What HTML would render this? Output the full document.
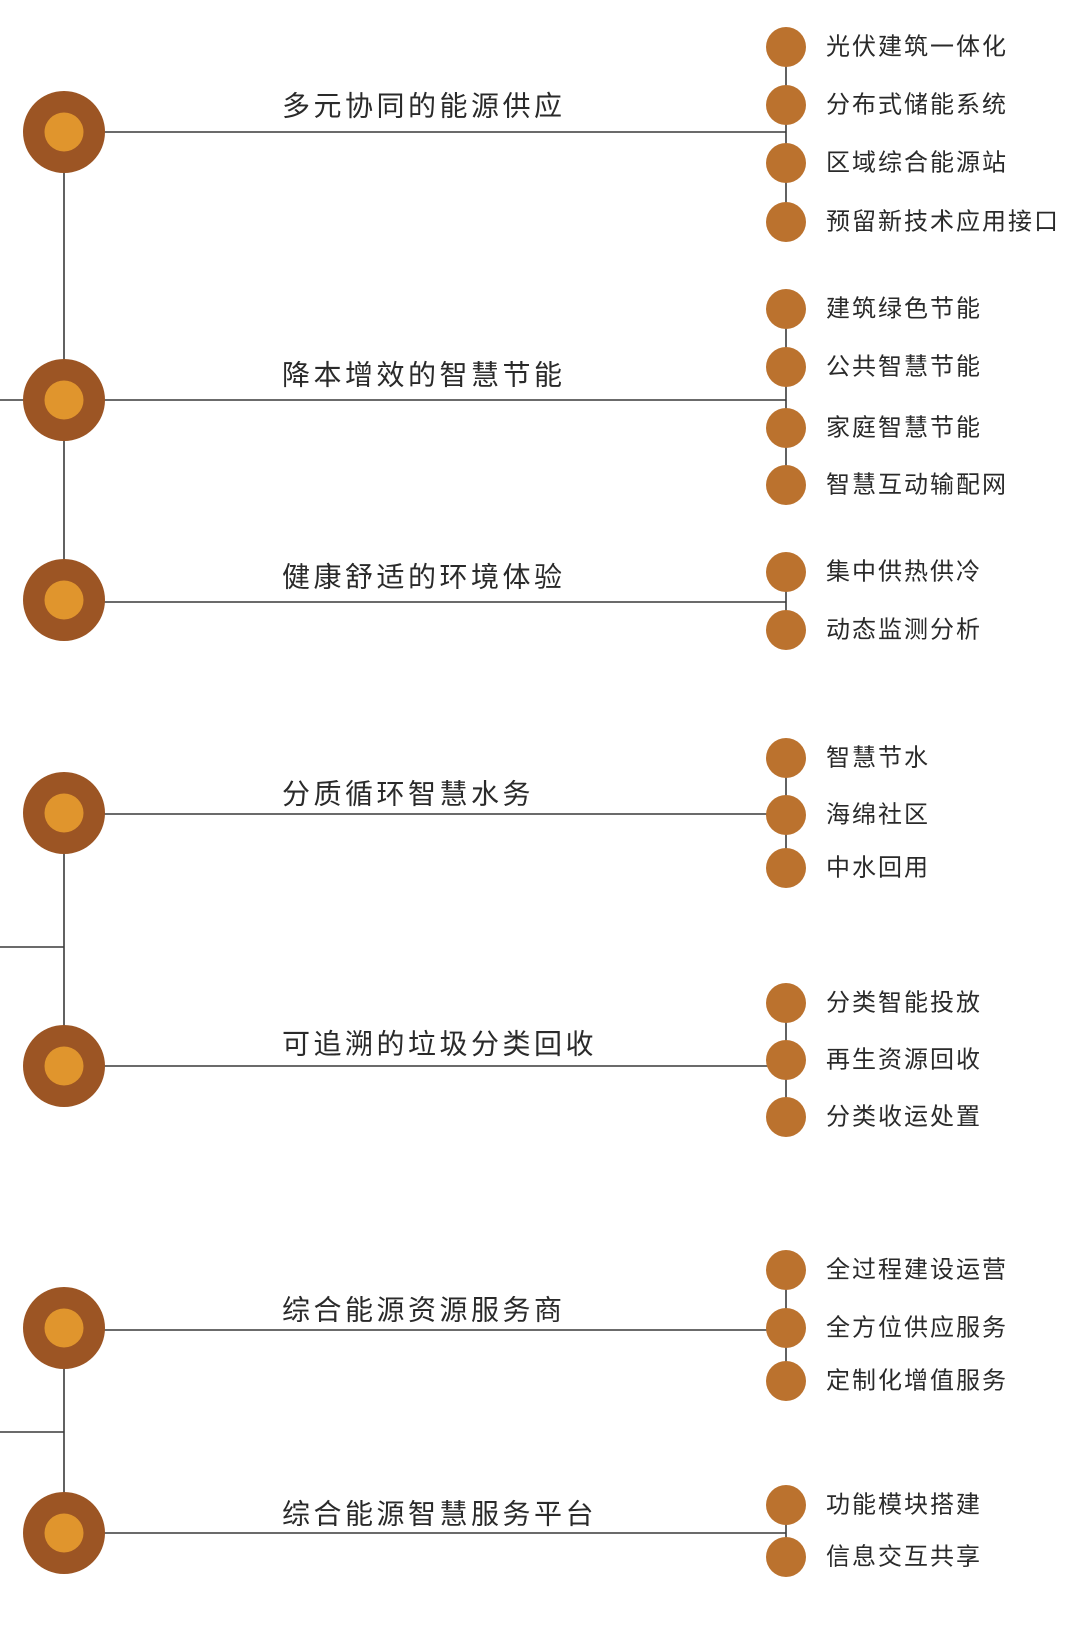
<!DOCTYPE html>
<html><head><meta charset="utf-8"><style>
html,body{margin:0;padding:0;background:#fff;}
svg{display:block;}
.m{font-family:"Liberation Sans","Noto Sans CJK SC",sans-serif;font-size:28px;fill:#2a2a2a;letter-spacing:3.5px;dominant-baseline:central;}
.s{font-family:"Liberation Sans","Noto Sans CJK SC",sans-serif;font-size:24px;fill:#2a2a2a;letter-spacing:2px;dominant-baseline:central;}
</style></head><body>
<svg width="1080" height="1626" viewBox="0 0 1080 1626" xmlns="http://www.w3.org/2000/svg">
<g stroke="#3a3a3a" stroke-width="1.6" fill="none">
<!-- verticals left -->
<line x1="64" y1="132" x2="64" y2="600"/>
<line x1="64" y1="814" x2="64" y2="1066"/>
<line x1="64" y1="1330" x2="64" y2="1533"/>
<!-- stubs -->
<line x1="0" y1="400" x2="64" y2="400"/>
<line x1="0" y1="947" x2="64" y2="947"/>
<line x1="0" y1="1432" x2="64" y2="1432"/>
<!-- horizontals -->
<line x1="64" y1="132" x2="786" y2="132"/>
<line x1="64" y1="400" x2="786" y2="400"/>
<line x1="64" y1="602" x2="786" y2="602"/>
<line x1="64" y1="814" x2="786" y2="814"/>
<line x1="64" y1="1066" x2="786" y2="1066"/>
<line x1="64" y1="1330" x2="786" y2="1330"/>
<line x1="64" y1="1533" x2="786" y2="1533"/>
<!-- right verticals -->
<line x1="786" y1="47" x2="786" y2="222"/>
<line x1="786" y1="309" x2="786" y2="485"/>
<line x1="786" y1="572" x2="786" y2="630"/>
<line x1="786" y1="758" x2="786" y2="868"/>
<line x1="786" y1="1003" x2="786" y2="1117"/>
<line x1="786" y1="1270" x2="786" y2="1381"/>
<line x1="786" y1="1505" x2="786" y2="1557"/>
</g>
<g>
<circle cx="64" cy="132" r="41" fill="#9c5524"/><circle cx="64" cy="132" r="19.5" fill="#e0952d"/>
<circle cx="64" cy="400" r="41" fill="#9c5524"/><circle cx="64" cy="400" r="19.5" fill="#e0952d"/>
<circle cx="64" cy="600" r="41" fill="#9c5524"/><circle cx="64" cy="600" r="19.5" fill="#e0952d"/>
<circle cx="64" cy="813" r="41" fill="#9c5524"/><circle cx="64" cy="813" r="19.5" fill="#e0952d"/>
<circle cx="64" cy="1066" r="41" fill="#9c5524"/><circle cx="64" cy="1066" r="19.5" fill="#e0952d"/>
<circle cx="64" cy="1328" r="41" fill="#9c5524"/><circle cx="64" cy="1328" r="19.5" fill="#e0952d"/>
<circle cx="64" cy="1533" r="41" fill="#9c5524"/><circle cx="64" cy="1533" r="19.5" fill="#e0952d"/>
</g>
<g fill="#bb722e">
<circle cx="786" cy="47" r="20"/><circle cx="786" cy="105" r="20"/><circle cx="786" cy="163" r="20"/><circle cx="786" cy="222" r="20"/>
<circle cx="786" cy="309" r="20"/><circle cx="786" cy="367" r="20"/><circle cx="786" cy="428" r="20"/><circle cx="786" cy="485" r="20"/>
<circle cx="786" cy="572" r="20"/><circle cx="786" cy="630" r="20"/>
<circle cx="786" cy="758" r="20"/><circle cx="786" cy="815" r="20"/><circle cx="786" cy="868" r="20"/>
<circle cx="786" cy="1003" r="20"/><circle cx="786" cy="1060" r="20"/><circle cx="786" cy="1117" r="20"/>
<circle cx="786" cy="1270" r="20"/><circle cx="786" cy="1328" r="20"/><circle cx="786" cy="1381" r="20"/>
<circle cx="786" cy="1505" r="20"/><circle cx="786" cy="1557" r="20"/>
</g>
<g>
<text class="m" x="282" y="106">多元协同的能源供应</text>
<text class="m" x="282" y="375">降本增效的智慧节能</text>
<text class="m" x="282" y="577">健康舒适的环境体验</text>
<text class="m" x="282" y="794">分质循环智慧水务</text>
<text class="m" x="282" y="1044">可追溯的垃圾分类回收</text>
<text class="m" x="282" y="1310">综合能源资源服务商</text>
<text class="m" x="282" y="1514">综合能源智慧服务平台</text>
</g>
<g>
<text class="s" x="826" y="47">光伏建筑一体化</text>
<text class="s" x="826" y="105">分布式储能系统</text>
<text class="s" x="826" y="163">区域综合能源站</text>
<text class="s" x="826" y="222">预留新技术应用接口</text>
<text class="s" x="826" y="309">建筑绿色节能</text>
<text class="s" x="826" y="367">公共智慧节能</text>
<text class="s" x="826" y="428">家庭智慧节能</text>
<text class="s" x="826" y="485">智慧互动输配网</text>
<text class="s" x="826" y="572">集中供热供冷</text>
<text class="s" x="826" y="630">动态监测分析</text>
<text class="s" x="826" y="758">智慧节水</text>
<text class="s" x="826" y="815">海绵社区</text>
<text class="s" x="826" y="868">中水回用</text>
<text class="s" x="826" y="1003">分类智能投放</text>
<text class="s" x="826" y="1060">再生资源回收</text>
<text class="s" x="826" y="1117">分类收运处置</text>
<text class="s" x="826" y="1270">全过程建设运营</text>
<text class="s" x="826" y="1328">全方位供应服务</text>
<text class="s" x="826" y="1381">定制化增值服务</text>
<text class="s" x="826" y="1505">功能模块搭建</text>
<text class="s" x="826" y="1557">信息交互共享</text>
</g>
</svg>
</body></html>
